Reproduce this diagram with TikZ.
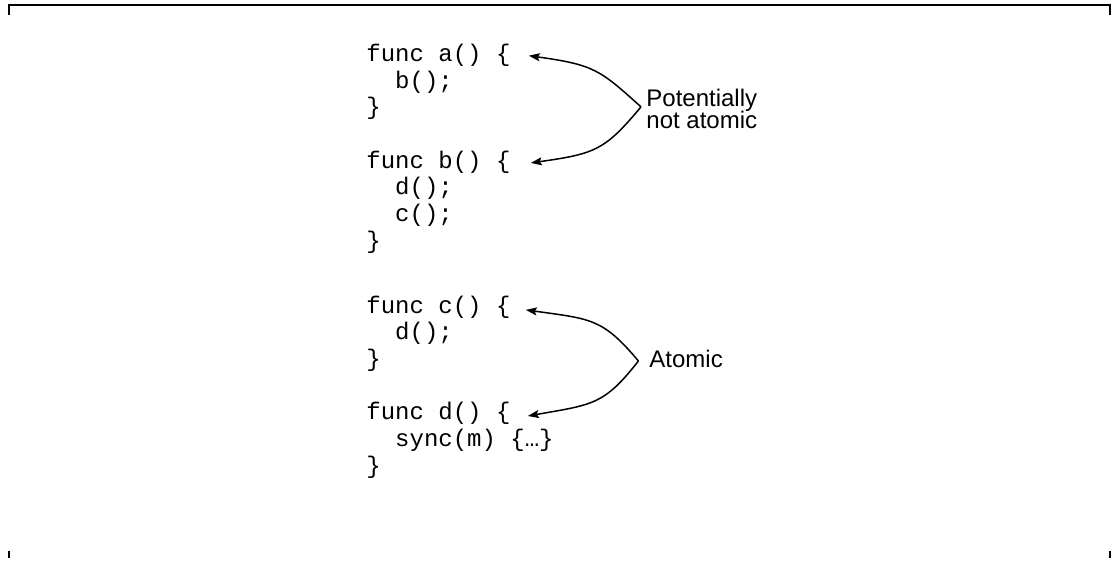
\documentclass[tikz,border=0pt]{standalone}
\usepackage{fontspec}
\usetikzlibrary{arrows.meta}
\newfontfamily\codefont{Liberation Mono}
\newfontfamily\notefont{Liberation Sans}

\begin{document}
\begin{tikzpicture}[x=0.5pt,y=0.5pt,
  code/.style={font=\codefont\fontsize{12}{13.33}\selectfont, anchor=base west, inner sep=0pt},
  note/.style={font=\notefont\fontsize{12}{12}\selectfont, align=left, anchor=west, inner sep=0pt},
  link/.style={-{Stealth[length=5.5pt,width=4pt,inset=1pt]}, line width=0.75pt},
  frame/.style={line width=0.85pt}]
  \useasboundingbox (0,0) rectangle (1118,561);
  \draw[frame] (9,546) -- (9,556) -- (1110,556) -- (1110,546);
  \draw[frame] (9,3) -- (9,10);
  \draw[frame] (1110,3) -- (1110,10);

  \node[code] (fa)  at (366,499.3) {func a() \{};
  \node[code] (fa1) at (394.8,472.7) {b();};
  \node[code] (fa2) at (366,446) {\}};

  \node[code] (fb)  at (366,392.7) {func b() \{};
  \node[code] (fb1) at (394.8,366) {d();};
  \node[code] (fb2) at (394.8,339.3) {c();};
  \node[code] (fb3) at (366,312.7) {\}};

  \node[code] (fc)  at (366,247.7) {func c() \{};
  \node[code] (fc1) at (394.8,221) {d();};
  \node[code] (fc2) at (366,194.3) {\}};

  \node[code] (fd)  at (366,141) {func d() \{};
  \node[code] (fd1) at (394.8,114.3) {sync(m) \{…\}};
  \node[code] (fd2) at (366,87.7) {\}};

  \node[note] (pna) at (646,452.1) {Potentially\\[-1.3pt]not atomic};
  \node[note] (atm) at (649,201.6) {Atomic};

  \draw[link] ([xshift=-2.5pt,yshift=1pt]pna.west) .. controls +(138:28pt) and +(-8:33pt) .. ([xshift=9pt,yshift=3pt]fa.base east);
  \draw[link] ([xshift=-2.5pt,yshift=1pt]pna.west) .. controls +(230:28pt) and +(8:33pt) .. ([xshift=10pt,yshift=2.7pt]fb.base east);
  \draw[link] ([xshift=-5.3pt,yshift=-0.8pt]atm.west) .. controls +(130:28pt) and +(-8:33pt) .. ([xshift=7.5pt,yshift=1.7pt]fc.base east);
  \draw[link] ([xshift=-5.3pt,yshift=-0.8pt]atm.west) .. controls +(232:28pt) and +(10:33pt) .. ([xshift=8.5pt,yshift=2pt]fd.base east);
\end{tikzpicture}
\end{document}
